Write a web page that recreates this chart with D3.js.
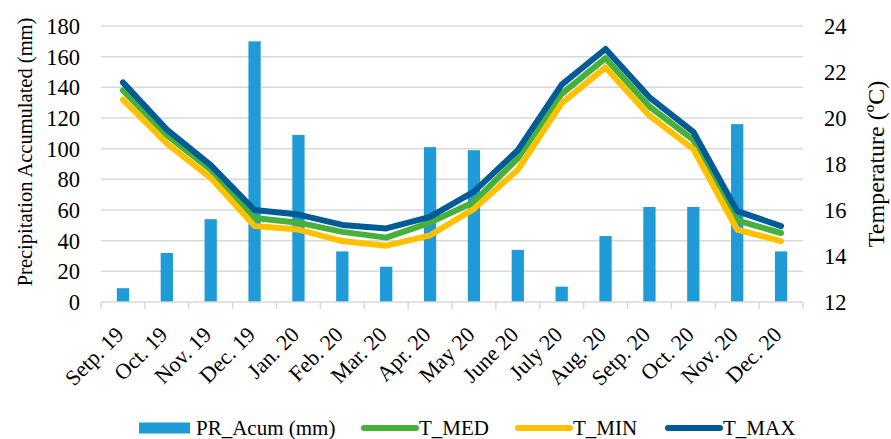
<!DOCTYPE html>
<html>
<head>
<meta charset="utf-8">
<script src="https://cdnjs.cloudflare.com/ajax/libs/d3/7.8.5/d3.min.js"></script>
<style>
  body { margin: 0; background: #fff; }
  text { font-family: "Liberation Serif", "Times New Roman", serif; fill: #000; }
</style>
</head>
<body>
<svg id="chart" width="891" height="439"></svg>
<script>
var months = ["Setp. 19","Oct. 19","Nov. 19","Dec. 19","Jan. 20","Feb. 20","Mar. 20","Apr. 20",
              "May 20","June 20","July 20","Aug. 20","Setp. 20","Oct. 20","Nov. 20","Dec. 20"];
var prAcum = [9, 32, 54, 170, 109, 33, 23, 101, 99, 34, 10, 43, 62, 62, 116, 33];
var tMed = [21.2, 19.25, 17.75, 15.65, 15.45, 15.05, 14.8, 15.45, 16.35, 18.25, 21.05, 22.6, 20.5, 19.05, 15.55, 15.0];
var tMin = [20.8, 18.9, 17.4, 15.3, 15.15, 14.65, 14.45, 14.9, 16.05, 17.75, 20.65, 22.2, 20.1, 18.65, 15.15, 14.65];
var tMax = [21.55, 19.5, 17.95, 16.0, 15.8, 15.35, 15.2, 15.7, 16.8, 18.6, 21.45, 23.0, 20.9, 19.4, 15.95, 15.3];
var leftTicks = [0, 20, 40, 60, 80, 100, 120, 140, 160, 180];
var rightTicks = [12, 14, 16, 18, 20, 22, 24];

var svg = d3.select("#chart");
var plotL = 101, plotR = 803, plotT = 26, plotB = 302;

var x = d3.scaleBand().domain(months).range([plotL, plotR]);
var yL = d3.scaleLinear().domain([0, 180]).range([plotB, plotT]);
var yR = d3.scaleLinear().domain([12, 24]).range([plotB, plotT]);

// gridlines
svg.append("g").selectAll("line")
  .data(leftTicks.slice(1))
  .enter().append("line")
  .attr("x1", plotL).attr("x2", plotR)
  .attr("y1", function(d) { return yL(d); })
  .attr("y2", function(d) { return yL(d); })
  .attr("stroke", "#d9d9d9").attr("stroke-width", 1.5);

// bars
var bw = x.bandwidth() * 0.28;
svg.append("g").selectAll("rect")
  .data(prAcum)
  .enter().append("rect")
  .attr("x", function(d, i) { return x(months[i]) + x.bandwidth() / 2 - bw / 2; })
  .attr("y", function(d) { return yL(d); })
  .attr("width", bw)
  .attr("height", function(d) { return plotB - yL(d); })
  .attr("fill", "#1f9bd7");

// x axis
var xAxis = svg.append("g").attr("transform", "translate(0," + plotB + ")");
xAxis.append("line").attr("x1", plotL).attr("x2", plotR).attr("stroke", "#d9d9d9").attr("stroke-width", 1.5);
xAxis.selectAll("line.tk")
  .data(d3.range(months.length + 1))
  .enter().append("line").attr("class", "tk")
  .attr("x1", function(i) { return plotL + i * x.step(); })
  .attr("x2", function(i) { return plotL + i * x.step(); })
  .attr("y1", 0).attr("y2", 7)
  .attr("stroke", "#d9d9d9").attr("stroke-width", 1.5);
xAxis.selectAll("text")
  .data(months)
  .enter().append("text")
  .attr("transform", function(d) {
    return "translate(" + (x(d) + x.bandwidth() / 2 + 2) + ",34) rotate(-45)";
  })
  .attr("text-anchor", "end")
  .attr("font-size", 22)
  .text(function(d) { return d; });

// left axis labels
svg.append("g").selectAll("text")
  .data(leftTicks)
  .enter().append("text")
  .attr("x", 80).attr("y", function(d) { return yL(d); })
  .attr("dy", "0.35em").attr("text-anchor", "end")
  .attr("font-size", 22.5)
  .text(function(d) { return d; });

// right axis labels
svg.append("g").selectAll("text")
  .data(rightTicks)
  .enter().append("text")
  .attr("x", 824).attr("y", function(d) { return yR(d); })
  .attr("dy", "0.35em").attr("text-anchor", "start")
  .attr("font-size", 22.5)
  .text(function(d) { return d; });

// axis titles
svg.append("text")
  .attr("transform", "translate(32,152) rotate(-90)")
  .attr("text-anchor", "middle").attr("font-size", 20.5)
  .text("Precipitation Accumulated (mm)");
svg.append("text")
  .attr("transform", "translate(884,164) rotate(-90)")
  .attr("text-anchor", "middle").attr("font-size", 24)
  .text("Temperature (ºC)");

// temperature lines
var line = d3.line()
  .x(function(d, i) { return x(months[i]) + x.bandwidth() / 2; })
  .y(function(d) { return yR(d); });
var series = [
  { name: "T_MED", values: tMed, color: "#46b03a" },
  { name: "T_MIN", values: tMin, color: "#ffc000" },
  { name: "T_MAX", values: tMax, color: "#005b96" }
];
series.forEach(function(s) {
  svg.append("path")
    .datum(s.values)
    .attr("d", line)
    .attr("fill", "none")
    .attr("stroke", s.color)
    .attr("stroke-width", 6)
    .attr("stroke-linejoin", "round")
    .attr("stroke-linecap", "round");
});

// legend
var ly = 428;
var lg = svg.append("g");
lg.append("rect").attr("x", 139).attr("y", ly - 5.5).attr("width", 51).attr("height", 11).attr("fill", "#1f9bd7");
lg.append("text").attr("x", 196).attr("y", ly).attr("dy", "0.35em").attr("font-size", 21).text("PR_Acum (mm)");
var lx = [364, 518, 668];
series.forEach(function(s, i) {
  lg.append("line")
    .attr("x1", lx[i]).attr("x2", lx[i] + 52)
    .attr("y1", ly).attr("y2", ly)
    .attr("stroke", s.color).attr("stroke-width", 6).attr("stroke-linecap", "round");
  lg.append("text").attr("x", lx[i] + 55).attr("y", ly).attr("dy", "0.35em")
    .attr("font-size", 21).text(s.name);
});
</script>
</body>
</html>
